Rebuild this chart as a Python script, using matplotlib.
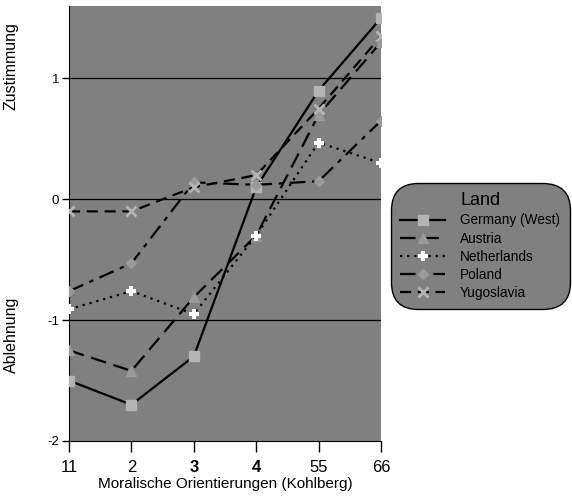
import matplotlib.pyplot as plt

# Daten
stufen = ['11', '2', '3', '4', '55', '66']
germany = [-1.50, -1.70, -1.30, 0.10, 0.90, 1.50]
austria = [-1.25, -1.42, -0.81, -0.30, 0.70, 1.30]
netherlands = [-0.91, -0.76, -0.95, -0.30, 0.47, 0.30]
poland = [-0.76, -0.53, 0.14, 0.12, 0.15, 0.65]
yugoslavia = [-0.10, -0.10, 0.10, 0.20, 0.75, 1.35]

fig = plt.figure(figsize=(5.72, 4.98), dpi=100)
ax = fig.add_axes([0.1206, 0.1145, 0.5455, 0.8735])
ax.set_facecolor('#808080')

x = list(range(len(stufen)))
ax.plot(x, germany, color='black', lw=1.6, ls='-', marker='s', ms=7,
        mfc='#b4b4b4', mec='#b4b4b4', label='Germany (West)', zorder=3)
ax.plot(x, austria, color='black', lw=1.6, ls=(0, (7, 3.5)), marker='^', ms=7,
        mfc='#9a9a9a', mec='#9a9a9a', label='Austria', zorder=3)
ax.plot(x, netherlands, color='black', lw=1.6, ls=(0, (1, 2.2)), marker='P', ms=7,
        mfc='white', mec='white', markeredgewidth=0, label='Netherlands', zorder=3)
ax.plot(x, poland, color='black', lw=1.6, ls=(0, (7, 3, 2, 3)), marker='D', ms=5,
        mfc='#9a9a9a', mec='#9a9a9a', label='Poland', zorder=3)
ax.plot(x, yugoslavia, color='black', lw=1.6, ls=(0, (5, 3)), marker='x', ms=7,
        mfc='#b4b4b4', mec='#b4b4b4', markeredgewidth=2, label='Yugoslavia', zorder=3)

ax.set_xlim(0, 5)
ax.set_ylim(-2, 1.6)
ax.set_yticks([-2, -1, 0, 1])
ax.set_yticklabels(['-2', '-1', '0', '1'], fontsize=9.5, family='Liberation Sans')
ax.set_xticks(x)
ax.set_xticklabels(stufen, fontsize=12, family='Liberation Sans')
for i in (2, 3):
    ax.get_xticklabels()[i].set_fontweight('bold')
for y in (-1, 0, 1):
    ax.axhline(y, color='black', lw=0.9, zorder=1)

ax.spines['top'].set_visible(False)
ax.spines['right'].set_visible(False)
ax.tick_params(axis='y', direction='out', length=5, width=1, colors='black', pad=2)
ax.tick_params(axis='x', direction='out', length=8, width=1, colors='black', pad=6)

ax.set_xlabel('Moralische Orientierungen (Kohlberg)', fontsize=11,
              family='Liberation Sans', labelpad=1)
fig.text(0.020, 0.868, 'Zustimmung', rotation=90, va='center', ha='center',
         fontsize=11.5, family='Liberation Sans')
fig.text(0.020, 0.328, 'Ablehnung', rotation=90, va='center', ha='center',
         fontsize=11.5, family='Liberation Sans')

leg = ax.legend(title='Land', loc='center left', bbox_to_anchor=(1.042, 0.448),
                frameon=True, facecolor='#808080',
                edgecolor='black', framealpha=1, handlelength=3.3, borderpad=0.45,
                labelspacing=0.3, handletextpad=1.1, borderaxespad=0,
                prop={'family': 'Liberation Sans', 'size': 9.8})
leg.get_title().set_family('Liberation Sans')
leg.get_title().set_fontsize(13)
leg.get_frame().set_boxstyle('round,pad=0.25,rounding_size=2.0')
leg.get_frame().set_linewidth(1)

fig.savefig('out.png', dpi=100)
